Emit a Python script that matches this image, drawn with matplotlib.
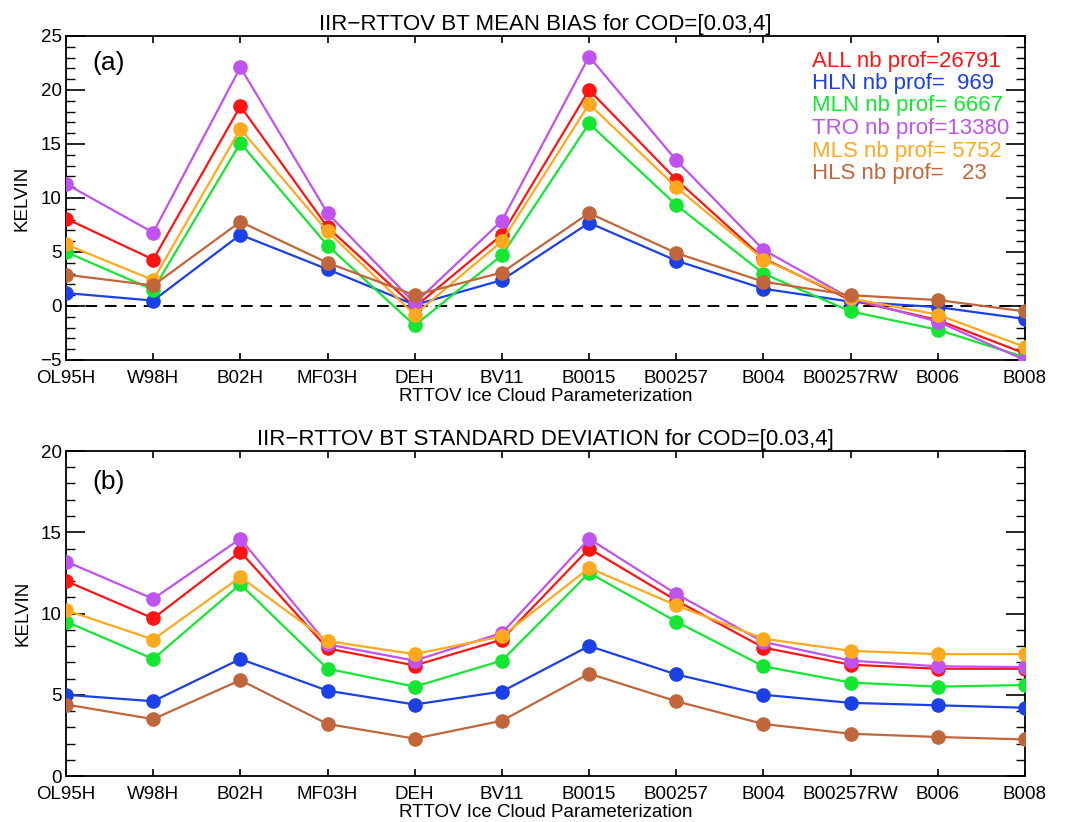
import matplotlib
matplotlib.use("Agg")
import matplotlib.pyplot as plt
from matplotlib.ticker import MultipleLocator

plt.rcParams['font.family'] = ['Liberation Sans', 'DejaVu Sans']

categories = ["OL95H", "W98H", "B02H", "MF03H", "DEH", "BV11", "B0015",
              "B00257", "B004", "B00257RW", "B006", "B008"]

series_names = ["ALL", "HLN", "MLN", "TRO", "MLS", "HLS"]
nb_prof = ["26791", "  969", " 6667", "13380", " 5752", "   23"]
colors = ["#ff1414", "#1a40e6", "#14e632", "#c053f0", "#ffaa1e", "#c0663a"]

# Mean bias (K)
bias_ALL = [8.1, 4.3, 18.5, 7.3, -0.1, 6.6, 20.0, 11.7, 4.4, 0.55, -1.3, -4.4]
bias_HLN = [1.2, 0.5, 6.6, 3.4, 0.1, 2.4, 7.7, 4.2, 1.6, 0.4, -0.1, -1.2]
bias_MLN = [5.0, 1.5, 15.1, 5.6, -1.8, 4.7, 16.9, 9.35, 3.0, -0.5, -2.2, -4.75]
bias_TRO = [11.3, 6.8, 22.1, 8.6, 0.25, 7.9, 23.1, 13.5, 5.2, 0.7, -1.45, -5.0]
bias_MLS = [5.7, 2.4, 16.4, 6.9, -0.8, 6.0, 18.7, 11.0, 4.3, 0.7, -0.8, -3.8]
bias_HLS = [2.9, 1.9, 7.8, 4.0, 1.0, 3.1, 8.6, 4.9, 2.25, 1.0, 0.55, -0.5]

# Standard deviation (K)
std_ALL = [12.0, 9.7, 13.8, 7.85, 6.8, 8.4, 14.0, 10.8, 7.9, 6.85, 6.6, 6.6]
std_HLN = [5.0, 4.6, 7.2, 5.25, 4.4, 5.2, 8.0, 6.25, 5.0, 4.5, 4.35, 4.2]
std_MLN = [9.5, 7.2, 11.8, 6.6, 5.5, 7.1, 12.5, 9.5, 6.75, 5.75, 5.5, 5.6]
std_TRO = [13.2, 10.9, 14.6, 8.1, 7.1, 8.8, 14.6, 11.2, 8.25, 7.1, 6.75, 6.7]
std_MLS = [10.2, 8.4, 12.25, 8.3, 7.5, 8.6, 12.8, 10.5, 8.45, 7.7, 7.5, 7.5]
std_HLS = [4.4, 3.5, 5.9, 3.2, 2.3, 3.4, 6.3, 4.6, 3.2, 2.6, 2.4, 2.25]

bias = [bias_ALL, bias_HLN, bias_MLN, bias_TRO, bias_MLS, bias_HLS]
std = [std_ALL, std_HLN, std_MLN, std_TRO, std_MLS, std_HLS]

W, H = 1091, 822
fig = plt.figure(figsize=(W / 100, H / 100), dpi=100)

def px_axes(left, top, right, bottom):
    return fig.add_axes([left / W, 1 - bottom / H, (right - left) / W, (bottom - top) / H])

ax1 = px_axes(66, 36, 1025, 360)
ax2 = px_axes(66, 451, 1025, 776)

x = list(range(len(categories)))

def style(ax, ylim, title, panel):
    ax.set_xlim(0, len(categories) - 1)
    ax.set_ylim(*ylim)
    ax.set_xticks(x)
    ax.set_xticklabels(categories, fontsize=13.5)
    ax.yaxis.set_major_locator(MultipleLocator(5))
    ax.yaxis.set_minor_locator(MultipleLocator(1))
    ax.tick_params(axis='y', which='major', direction='in', length=13.5, width=1.2,
                   left=True, right=True, labelsize=13.5, pad=3)
    ax.tick_params(axis='y', which='minor', direction='in', length=6.5, width=1.0,
                   left=True, right=True)
    ax.tick_params(axis='x', which='major', direction='in', length=5, width=1.2,
                   top=True, bottom=True, pad=7)
    ax.tick_params(axis='x', which='minor', bottom=False, top=False)
    for s in ax.spines.values():
        s.set_linewidth(1.3)
    ax.set_title(title, fontsize=16, pad=4)
    ax.set_xlabel("RTTOV Ice Cloud Parameterization", fontsize=13.5, labelpad=1)
    ax.set_ylabel("KELVIN", fontsize=13.5, labelpad=7)
    ax.text(0.027, 0.955 if panel == "(a)" else 0.94, panel, transform=ax.transAxes,
            fontsize=19, ha='left', va='top')
    ax.set_yticklabels([f"{int(v)}".replace("-", "\u2212") for v in ax.get_yticks()])

style(ax1, (-5, 25), "IIR\u2212RTTOV BT MEAN BIAS for COD=[0.03,4]", "(a)")
ax1.axhline(0, color='black', lw=1.4, ls=(0, (6, 4)), zorder=1)
for vals, c in zip(bias, colors):
    ax1.plot(x, vals, color=c, lw=1.6, marker='o', ms=9.5, zorder=3)

style(ax2, (0, 20), "IIR\u2212RTTOV BT STANDARD DEVIATION for COD=[0.03,4]", "(b)")
for vals, c in zip(std, colors):
    ax2.plot(x, vals, color=c, lw=1.6, marker='o', ms=9.5, zorder=3)

for i, (name, nb, c) in enumerate(zip(series_names, nb_prof, colors)):
    ax1.text(812 / W, 1 - (61 + 22.5 * i) / H, f"{name} nb prof={nb}", color=c,
             fontsize=16, ha='left', va='center', transform=fig.transFigure)

fig.savefig("out.png", dpi=100)
